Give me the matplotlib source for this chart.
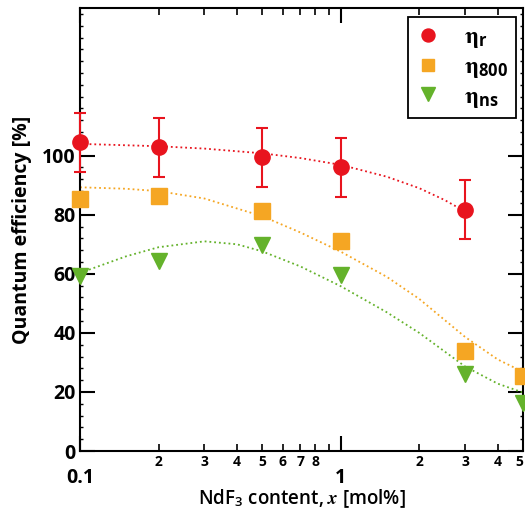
import matplotlib
matplotlib.use("Agg")
import matplotlib.pyplot as plt
from matplotlib.ticker import FixedLocator, FixedFormatter, MultipleLocator, NullFormatter

plt.rcParams["font.family"] = ["Open Sans", "DejaVu Sans"]
plt.rcParams["font.weight"] = "bold"
plt.rcParams["mathtext.fontset"] = "stix"

# measured data (NdF3 content in mol%)
x_data = [0.1, 0.2, 0.5, 1, 3]
eta_r = [104.5, 102.8, 99.5, 96.0, 81.7]
eta_r_err = [10, 10, 10, 10, 10]

x_800 = [0.1, 0.2, 0.5, 1, 3, 5]
eta_800 = [85.4, 86.4, 81.4, 71.2, 33.9, 25.4]
eta_ns = [59.3, 64.2, 69.8, 59.7, 26.1, 16.4]

# fitted curves
fit_r_x = [0.1, 0.2, 0.3, 0.5, 0.7, 1, 1.5, 2, 2.5, 3]
fit_r_y = [104.0, 103.2, 102.4, 100.8, 99.2, 96.9, 92.9, 89.0, 85.0, 81.1]
fit_800_x = [0.1, 0.15, 0.2, 0.3, 0.5, 0.7, 1, 1.5, 2, 3, 4, 5]
fit_800_y = [89.3, 88.8, 88.0, 85.5, 79.5, 74.0, 67.5, 59.0, 51.5, 38.6, 31.0, 26.8]
fit_ns_x = [0.1, 0.15, 0.2, 0.3, 0.4, 0.5, 0.7, 1, 1.5, 2, 3, 4, 5]
fit_ns_y = [60.3, 65.9, 69.0, 71.0, 70.0, 67.6, 62.5, 55.8, 47.0, 40.0, 28.6, 22.8, 19.8]

labels = [r"$\mathrm{\eta}_\mathregular{r}$", r"$\mathrm{\eta}_\mathregular{800}$",
          r"$\mathrm{\eta}_\mathregular{ns}$"]

red = "#e8141e"
orange = "#f5a623"
green = "#64b22b"

fig = plt.figure(figsize=(5.25, 5.11), dpi=100)
ax = fig.add_axes([0.1524, 0.1174, 0.8438, 0.8669])

ax.plot(fit_r_x, fit_r_y, ":", color=red, lw=1.3)
ax.plot(fit_800_x, fit_800_y, ":", color=orange, lw=1.3)
ax.plot(fit_ns_x, fit_ns_y, ":", color=green, lw=1.3)

eb = ax.errorbar(x_data, eta_r, yerr=eta_r_err, fmt="o", color=red, ms=11,
                 elinewidth=1.5, capsize=4.5, capthick=1.5, zorder=5)
for art in eb.lines[0:1] + eb.lines[1] + eb.lines[2]:
    art.set_clip_on(False)
h800, = ax.plot(x_800, eta_800, "s", color=orange, ms=11, zorder=5, clip_on=False)
hns, = ax.plot(x_800, eta_ns, "v", color=green, ms=12, zorder=5, clip_on=False)

# legend handles without error bars
hr, = ax.plot([], [], "o", color=red, ms=11)

ax.set_xscale("log")
ax.set_xlim(0.1, 5)
ax.set_ylim(0, 150)

# x ticks
ax.xaxis.set_major_locator(FixedLocator([0.1, 1]))
ax.xaxis.set_major_formatter(FixedFormatter(["0.1", "1"]))
ax.xaxis.set_minor_locator(FixedLocator([0.2, 0.3, 0.4, 0.5, 0.6, 0.7, 0.8, 0.9, 2, 3, 4, 5]))
ax.xaxis.set_minor_formatter(FixedFormatter(["2", "3", "4", "5", "6", "7", "8", "", "2", "3", "4", "5"]))
ax.xaxis.set_tick_params(which="major", direction="in", top=True, length=11, width=1.5,
                         labelsize=14, pad=12)
ax.xaxis.set_tick_params(which="minor", direction="in", top=True, length=5, width=1.2,
                         labelsize=10, pad=3)

# y ticks
ax.yaxis.set_major_locator(FixedLocator([0, 20, 40, 60, 80, 100]))
ax.yaxis.set_minor_locator(MultipleLocator(4))
ax.yaxis.set_minor_formatter(NullFormatter())
ax.yaxis.set_tick_params(which="major", direction="in", right=True, length=11, width=1.5,
                         labelsize=14, pad=3)
ax.yaxis.set_tick_params(which="minor", direction="in", right=True, length=2, width=1)

for s in ax.spines.values():
    s.set_linewidth(1.5)

ax.set_xlabel(r"NdF$_\mathregular{3}$ content, $\mathit{x}$ [mol%]", fontsize=13.5,
              fontweight="semibold", labelpad=0)
ax.set_ylabel("Quantum efficiency [%]", fontsize=14, fontweight="bold", labelpad=7)

leg = ax.legend([hr, h800, hns], labels, loc="upper right", bbox_to_anchor=(0.984, 0.980),
                fontsize=17, frameon=True, fancybox=False, edgecolor="black", framealpha=1,
                borderaxespad=0, handlelength=1.0, handletextpad=1.0, borderpad=0.35,
                labelspacing=0.2, markerscale=0.85, numpoints=1)
leg.get_frame().set_linewidth(1.3)

fig.canvas.draw()
# the last minor label sits on the right edge; keep it inside the figure
ax.xaxis.get_minor_ticks()[-1].label1.set_horizontalalignment("right")

fig.savefig("out.png", dpi=100)
